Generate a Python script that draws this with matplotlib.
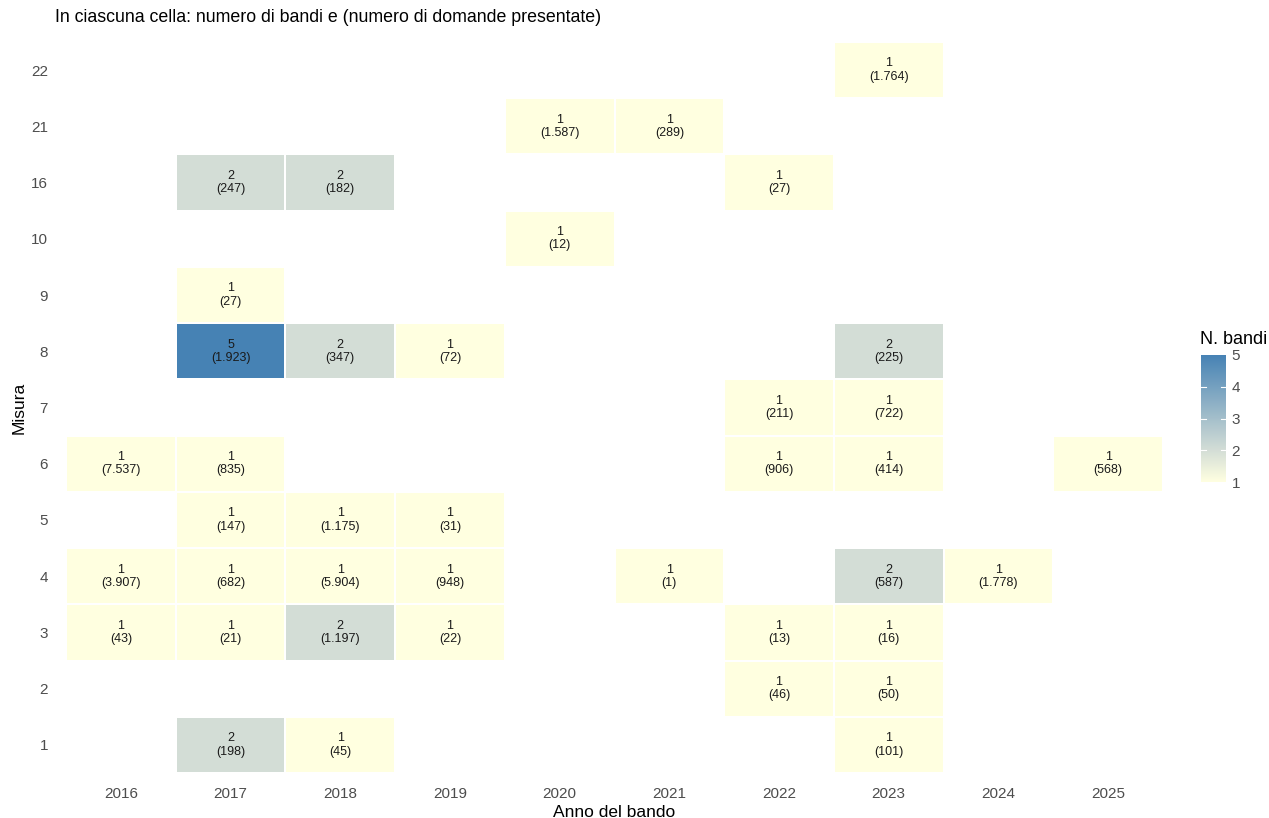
import numpy as np
import matplotlib
matplotlib.use("Agg")
import matplotlib.pyplot as plt
from matplotlib.colors import LinearSegmentedColormap

plt.rcParams['font.family'] = ['Liberation Sans', 'DejaVu Sans']

anni = [2016, 2017, 2018, 2019, 2020, 2021, 2022, 2023, 2024, 2025]
misure = [1, 2, 3, 4, 5, 6, 7, 8, 9, 10, 16, 21, 22]

# one entry per cell: anno, misura, numero di bandi, numero di domande
cell_anno = [2023,
             2020, 2021,
             2017, 2018, 2022,
             2020,
             2017,
             2017, 2018, 2019, 2023,
             2022, 2023,
             2016, 2017, 2022, 2023, 2025,
             2017, 2018, 2019,
             2016, 2017, 2018, 2019, 2021, 2023, 2024,
             2016, 2017, 2018, 2019, 2022, 2023,
             2022, 2023,
             2017, 2018, 2023]
cell_misura = [22,
               21, 21,
               16, 16, 16,
               10,
               9,
               8, 8, 8, 8,
               7, 7,
               6, 6, 6, 6, 6,
               5, 5, 5,
               4, 4, 4, 4, 4, 4, 4,
               3, 3, 3, 3, 3, 3,
               2, 2,
               1, 1, 1]
cell_bandi = [1,
              1, 1,
              2, 2, 1,
              1,
              1,
              5, 2, 1, 2,
              1, 1,
              1, 1, 1, 1, 1,
              1, 1, 1,
              1, 1, 1, 1, 1, 2, 1,
              1, 1, 2, 1, 1, 1,
              1, 1,
              2, 1, 1]
cell_domande = ["1.764",
                "1.587", "289",
                "247", "182", "27",
                "12",
                "27",
                "1.923", "347", "72", "225",
                "211", "722",
                "7.537", "835", "906", "414", "568",
                "147", "1.175", "31",
                "3.907", "682", "5.904", "948", "1", "587", "1.778",
                "43", "21", "1.197", "22", "13", "16",
                "46", "50",
                "198", "45", "101"]

grid = np.full((len(misure), len(anni)), np.nan)
for a, m, b in zip(cell_anno, cell_misura, cell_bandi):
    grid[misure.index(m), anni.index(a)] = b
grid = np.ma.masked_invalid(grid)

cmap = LinearSegmentedColormap.from_list("bandi", [(0, "#FFFFE0"), (0.25, "#D3DDD6"), (1, "#4682B4")])

W, H = 1269, 818
fig = plt.figure(figsize=(W / 100, H / 100), dpi=100)

# panel in pixel coordinates
x0, x1, y0, y1 = 66, 1163, 42, 773
ax = fig.add_axes([x0 / W, 1 - y1 / H, (x1 - x0) / W, (y1 - y0) / H])
mesh = ax.pcolormesh(np.arange(len(anni) + 1) - 0.5, np.arange(len(misure) + 1) - 0.5, grid,
                     cmap=cmap, vmin=1, vmax=5, edgecolors="white", linewidth=1.2)

for a, m, b, d in zip(cell_anno, cell_misura, cell_bandi, cell_domande):
    ax.text(anni.index(a), misure.index(m), f"{b}\n({d})", ha="center", va="center",
            fontsize=9, color="#1A1A1A", linespacing=1.15)

ax.set_xlim(-0.5, len(anni) - 0.5)
ax.set_ylim(-0.5, len(misure) - 0.5)
ax.set_xticks(range(len(anni)))
ax.set_xticklabels([str(a) for a in anni])
ax.set_yticks(range(len(misure)))
ax.set_yticklabels([str(m) for m in misure])
ax.tick_params(axis="x", length=0, labelsize=11, labelcolor="#4D4D4D", pad=10)
ax.tick_params(axis="y", length=0, labelsize=11, labelcolor="#4D4D4D", pad=13)
for s in ax.spines.values():
    s.set_visible(False)
ax.set_xlabel("Anno del bando", fontsize=12.5, labelpad=3)
ax.set_ylabel("Misura", fontsize=12.5, labelpad=3)

fig.text(55 / W, 1 - 18 / H, "In ciascuna cella: numero di bandi e (numero di domande presentate)",
         fontsize=12.8, ha="left", va="center")

# legend colorbar
cax = fig.add_axes([1201 / W, 1 - 482 / H, 25 / W, (482 - 355) / H])
cb = fig.colorbar(mesh, cax=cax, ticks=[1, 2, 3, 4, 5])
cb.outline.set_visible(False)
cax.tick_params(length=0, labelsize=11, labelcolor="#4D4D4D", pad=4)
for t in [2, 3, 4]:
    cax.axhline(t, xmin=0, xmax=0.2, color="white", lw=0.8)
    cax.axhline(t, xmin=0.8, xmax=1, color="white", lw=0.8)
fig.text(1200 / W, 1 - 339 / H, "N. bandi", fontsize=13, ha="left", va="center")

fig.savefig("out.png", dpi=100)
